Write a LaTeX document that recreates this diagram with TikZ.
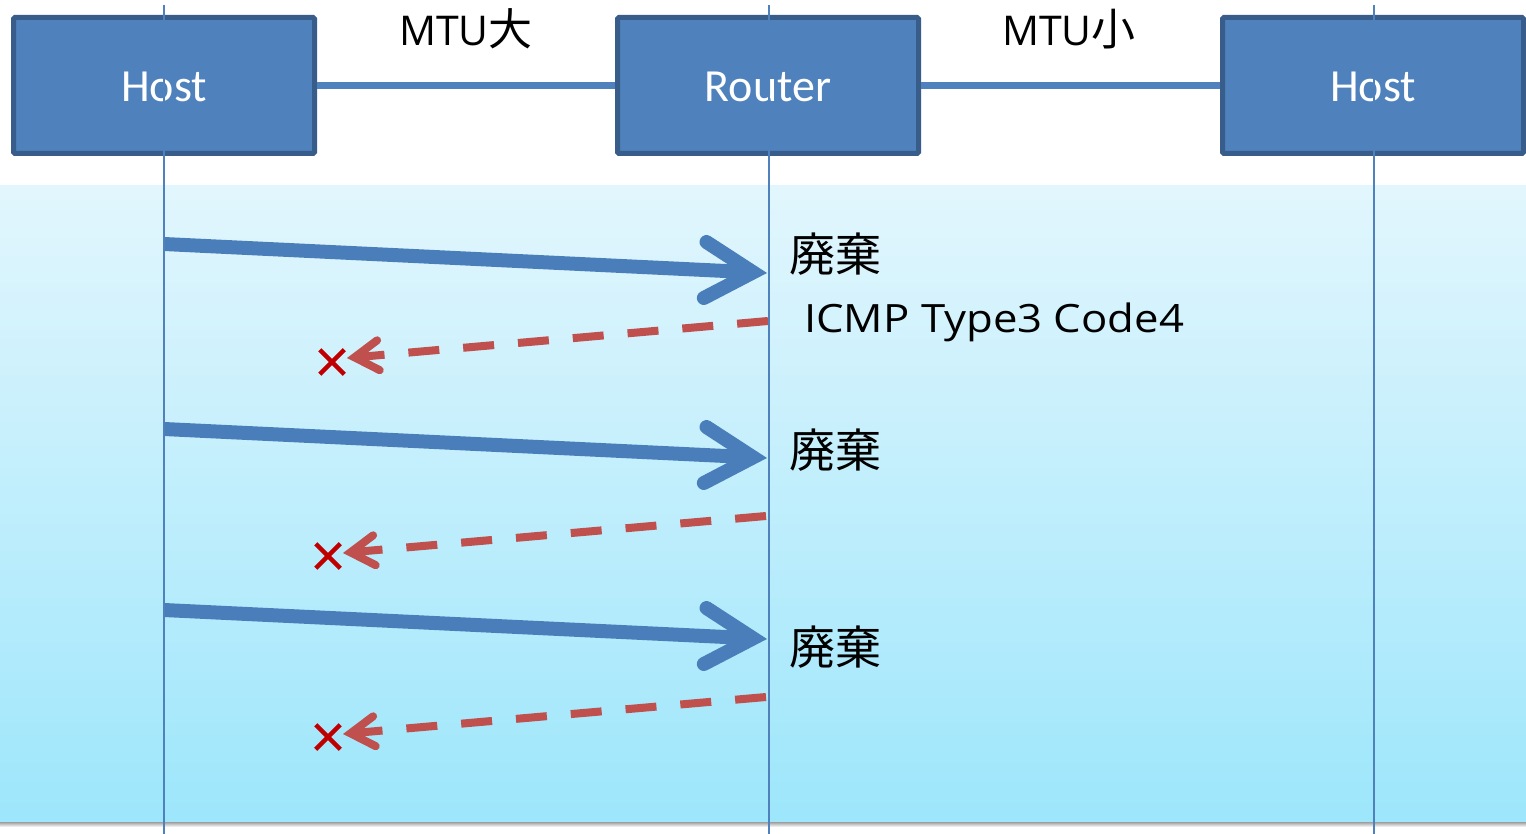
\documentclass[tikz,border=0pt]{standalone}
\usepackage{fontspec}
\setmainfont{Carlito}
\newfontfamily\jp{Noto Sans CJK JP}
\newfontfamily\lat{Open Sans}
\usetikzlibrary{arrows.meta,shapes.misc}
\definecolor{boxfill}{HTML}{4F81BD}
\definecolor{boxline}{HTML}{385D8A}
\definecolor{arrowblue}{HTML}{4A7EBB}
\definecolor{lifeline}{HTML}{4F81BD}
\definecolor{dashred}{HTML}{C0504D}
\definecolor{xred}{HTML}{C00000}
\definecolor{bgtop}{RGB}{226,246,253}
\definecolor{bgbot}{RGB}{157,230,251}
\newcommand{\boxlabel}[1]{\raisebox{-16pt}[0pt][0pt]{#1}}
\begin{document}
\begin{tikzpicture}[x=1pt,y=-1pt,
  hostbox/.style={draw=boxline, fill=boxfill, line width=5pt, minimum width=301pt,
    minimum height=136pt, rounded corners=1.5pt, text=white,
    font=\fontsize{46}{54}\selectfont, inner sep=0pt},
  link/.style={draw=boxfill, line width=7pt},
  life/.style={draw=lifeline, line width=2pt},
  msg/.style={draw=arrowblue, line width=14pt,
    -{Straight Barb[length=48pt,width=56pt,line cap=round,line join=miter]}},
  reply/.style={draw=dashred, line width=8pt, dash pattern=on 31pt off 24pt,
    -{Straight Barb[length=24pt,width=30pt,line cap=round,line join=miter]}},
  drop/.style={cross out, draw=xred, line width=4.5pt, minimum size=20pt, inner sep=0pt},
  mtu/.style={anchor=base, inner sep=0pt},
  discard/.style={font=\jp\fontsize{46}{55}\selectfont, anchor=west, inner sep=0pt},
  icmp/.style={font=\lat\fontsize{39}{47}\selectfont, anchor=base west, inner sep=0pt},
]
\useasboundingbox (0,0) rectangle (1526,834);
\fill[white] (0,0) rectangle (1526,834);
% background band
\shade[top color=bgtop, bottom color=bgbot] (0,186) rectangle (1526,822);
\shade[top color=black!38, bottom color=white] (0,822) rectangle (1526,827);

% boxes
\node[hostbox] (h1) at (164,85.5) {\boxlabel{Host}};
\node[hostbox] (rt) at (768,85.5) {\boxlabel{Router}};
\node[hostbox] (h2) at (1373,85.5) {\boxlabel{Host}};
\draw[link] (h1.east) -- (rt.west);
\draw[link] (rt.east) -- (h2.west);

% MTU labels
\node[mtu] (mtu1) at (466,46) {{\lat\fontsize{41}{50}\selectfont MTU}{\jp\fontsize{44}{50}\selectfont 大}};
\node[mtu] (mtu2) at (1069,46) {{\lat\fontsize{41}{50}\selectfont MTU}{\jp\fontsize{44}{50}\selectfont 小}};

% coordinates
\coordinate (a1s) at (164,244);
\coordinate (a1e) at (767,273);
\coordinate (a2s) at (164,429);
\coordinate (a2e) at (767,458);
\coordinate (a3s) at (164,610);
\coordinate (a3e) at (767,639);
\coordinate (r1s) at (768,321);
\coordinate (r1e) at (347,358);
\coordinate (r2s) at (766,516);
\coordinate (r2e) at (343,553);
\coordinate (r3s) at (766,697);
\coordinate (r3e) at (343,734);

% messages
\draw[msg] (a1s) -- (a1e);
\draw[msg] (a2s) -- (a2e);
\draw[msg] (a3s) -- (a3e);
\draw[reply] (r1s) -- (r1e);
\draw[reply] (r2s) -- (r2e);
\draw[reply] (r3s) -- (r3e);

% drop marks
\node[drop] (x1) at (332,362) {};
\node[drop] (x2) at (328,556) {};
\node[drop] (x3) at (328,737) {};

% labels
\node[discard] (d1) at (789,254) {廃棄};
\node[discard] (d2) at (789,450) {廃棄};
\node[discard] (d3) at (789,647) {廃棄};
\node[icmp] (ic) at (804,333) {\scalebox{1.12}[1]{ICMP Type3 Code4}};

% lifelines
\coordinate (l1t) at (164,5);
\coordinate (l1b) at (164,834);
\coordinate (l2t) at (768.5,5);
\coordinate (l2b) at (768.5,834);
\coordinate (l3t) at (1373.5,5);
\coordinate (l3b) at (1373.5,834);
\draw[life] (l1t) -- (l1b);
\draw[life] (l2t) -- (l2b);
\draw[life] (l3t) -- (l3b);
\end{tikzpicture}
\end{document}
